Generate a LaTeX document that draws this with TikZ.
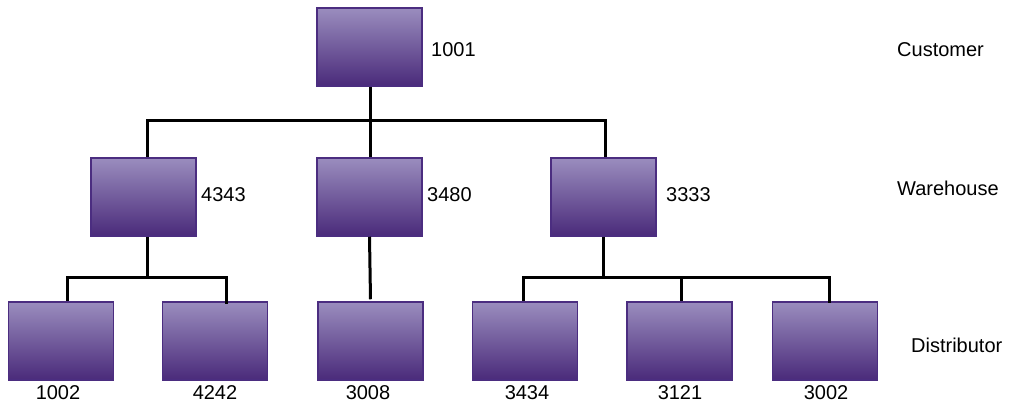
\documentclass[tikz,border=0pt]{standalone}
\usepackage{fontspec}
\setmainfont{Liberation Sans}
\definecolor{boxtop}{HTML}{9A8DBE}
\definecolor{boxbot}{HTML}{4A2A7A}
\definecolor{boxline}{HTML}{4B2D80}
\tikzset{
  orgbox/.style={rectangle, draw=boxline, line width=1.5pt, top color=boxtop, bottom color=boxbot,
    minimum width=105pt, minimum height=78pt, inner sep=0pt},
  lbl/.style={font=\fontsize{20}{24}\selectfont, inner sep=0pt, anchor=west},
  blbl/.style={font=\fontsize{20}{24}\selectfont, inner sep=0pt, anchor=base},
  wire/.style={line width=3pt, draw=black}
}
\begin{document}
\begin{tikzpicture}[x=1pt,y=-1pt]
\useasboundingbox (0,0) rectangle (1013,402);
% boxes
\node[orgbox] (c) at (369.5,47) {};
\node[orgbox] (w1) at (143.5,197) {};
\node[orgbox] (w2) at (369.5,197) {};
\node[orgbox] (w3) at (603.5,197) {};
\node[orgbox] (d1) at (61,341) {};
\node[orgbox] (d2) at (215,341) {};
\node[orgbox] (d3) at (370.5,341) {};
\node[orgbox] (d4) at (525,341) {};
\node[orgbox] (d5) at (679.5,341) {};
\node[orgbox] (d6) at (825,341) {};
% labels
\node[lbl] (lc) at (431,50) {1001};
\node[lbl] (lw1) at (201,195) {4343};
\node[lbl] (lw2) at (427,195) {3480};
\node[lbl] (lw3) at (666,195) {3333};
\node[blbl] (ld1) at (58,399) {1002};
\node[blbl] (ld2) at (215,399) {4242};
\node[blbl] (ld3) at (368,399) {3008};
\node[blbl] (ld4) at (527,399) {3434};
\node[blbl] (ld5) at (680,399) {3121};
\node[blbl] (ld6) at (826,399) {3002};
\node[lbl] (t1) at (897,50) {Customer};
\node[lbl] (t2) at (897,188) {Warehouse};
\node[lbl] (t3) at (911,345) {Distributor};
% junctions
\coordinate (j0) at (370.5,120);
\coordinate (j1) at (147,277);
\coordinate (j3) at (603,277);
% connectors
\draw[wire] (c.south -| j0) -- (j0);
\draw[wire] (j0) -| ([xshift=3.5pt]w1.north);
\draw[wire] (j0) -- (w2.north -| j0);
\draw[wire] (j0) -| ([xshift=1.5pt]w3.north);
\draw[wire] (w1.south -| j1) -- (j1);
\draw[wire] (j1) -| ([xshift=6pt]d1.north);
\draw[wire] (j1) -| ([xshift=11pt,yshift=-3pt]d2.north);
\draw[wire] (w2.south) -- ([yshift=2pt]d3.north);
\draw[wire] (w3.south -| j3) -- (j3);
\draw[wire] (j3) -| ([xshift=-2pt]d4.north);
\draw[wire] (j3) -| ([xshift=1.5pt]d5.north);
\draw[wire] (j3) -| ([xshift=4pt,yshift=-2pt]d6.north);
\end{tikzpicture}
\end{document}
